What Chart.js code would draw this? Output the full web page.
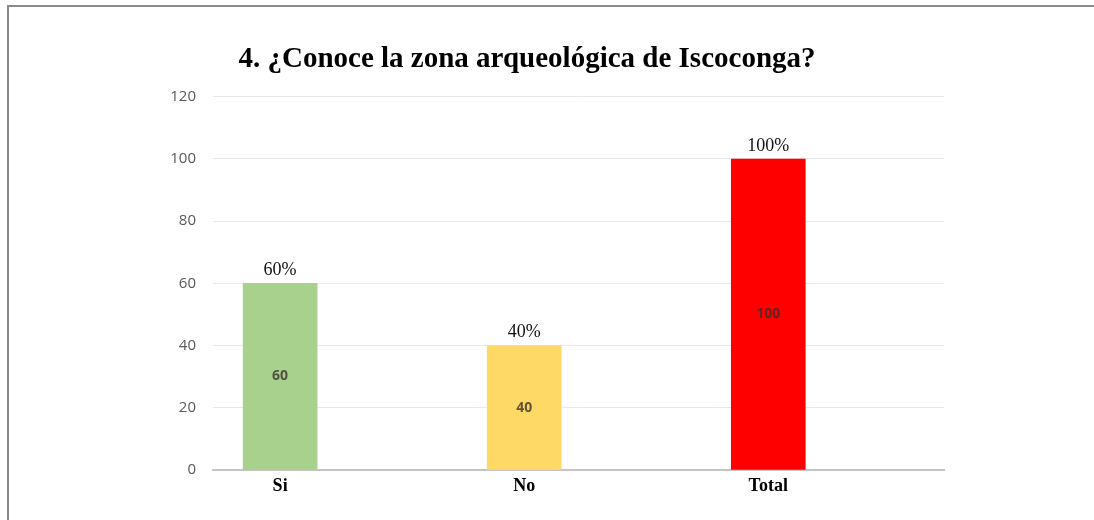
<!DOCTYPE html>
<html>
<head>
<meta charset="utf-8">
<script src="https://cdn.jsdelivr.net/npm/chart.js@4.4.1/dist/chart.umd.min.js"></script>
<style>
  html, body { margin: 0; padding: 0; background: #fff; }
  #wrap { position: absolute; left: 0; top: 0; width: 1094px; height: 520px; }
  #frame { position: absolute; left: 7px; top: 5px; width: 1100px; height: 600px;
           border-left: 2px solid #8a8a8a; border-top: 2px solid #8a8a8a; pointer-events: none; }
</style>
</head>
<body>
<div id="wrap"><canvas id="chart" width="1094" height="520"></canvas></div>
<div id="frame"></div>
<script>
  const titleText = '4. ¿Conoce la zona arqueológica de Iscoconga?';
  const categories = ['Si', 'No', 'Total'];
  const counts = [60, 40, 100];
  const percentLabels = ['60%', '40%', '100%'];
  const barColors = ['#A9D18E', '#FFD966', '#FF0000'];
  const yTicks = [0, 20, 40, 60, 80, 100, 120];

  // labels on the bars: percent above, count in the middle
  const barLabels = {
    id: 'barLabels',
    afterDatasetsDraw(chart) {
      const ctx = chart.ctx;
      const meta = chart.getDatasetMeta(0);
      ctx.save();
      ctx.textAlign = 'center';
      ctx.textBaseline = 'middle';
      meta.data.forEach((bar, i) => {
        ctx.fillStyle = '#111';
        ctx.font = '18px "Liberation Serif", "Times New Roman", serif';
        ctx.fillText(percentLabels[i], bar.x, bar.y - 13);
        ctx.fillStyle = 'rgba(55,45,45,0.78)';
        ctx.font = 'bold 14px "Open Sans", "DejaVu Sans", sans-serif';
        ctx.fillText(String(counts[i]), bar.x, (bar.y + bar.base) / 2);
      });
      ctx.restore();
    }
  };

  new Chart(document.getElementById('chart').getContext('2d'), {
    type: 'bar',
    data: {
      datasets: [{
        data: categories.map((c, i) => ({ x: i, y: counts[i] })),
        backgroundColor: barColors,
        borderWidth: 0,
        barThickness: 74
      }]
    },
    options: {
      responsive: false,
      animation: false,
      layout: { padding: { left: 110, right: 150, top: 0, bottom: 0 } },
      plugins: {
        legend: { display: false },
        tooltip: { enabled: false },
        title: {
          display: true,
          text: titleText,
          color: '#000',
          font: { family: '"Liberation Serif", "Times New Roman", serif', size: 29, weight: 'bold', lineHeight: 1.2 },
          padding: { top: 42, bottom: 20 }
        }
      },
      scales: {
        x: {
          type: 'linear',
          offset: false,
          min: -0.275,
          max: 2.72,
          afterBuildTicks: (scale) => { scale.ticks = categories.map((c, i) => ({ value: i })); },
          afterFit: (scale) => { scale.height = 50; },
          grid: { display: false, drawTicks: false },
          border: { display: true, color: '#c4c4c4', width: 2 },
          ticks: {
            autoSkip: false,
            maxRotation: 0,
            padding: 6,
            color: '#000',
            font: { family: '"Liberation Serif", "Times New Roman", serif', size: 18, weight: 'bold' },
            callback: (v) => categories[v]
          }
        },
        y: {
          min: 0,
          max: 120,
          afterBuildTicks: (scale) => { scale.ticks = yTicks.map(v => ({ value: v })); },
          afterFit: (scale) => { scale.width = 103; },
          grid: { color: '#e8e8e8', lineWidth: 1, drawTicks: false },
          border: { display: false },
          ticks: {
            padding: 17,
            color: '#595959',
            font: { family: '"Open Sans", "DejaVu Sans", sans-serif', size: 15 }
          }
        }
      }
    },
    plugins: [barLabels]
  });
</script>
</body>
</html>
